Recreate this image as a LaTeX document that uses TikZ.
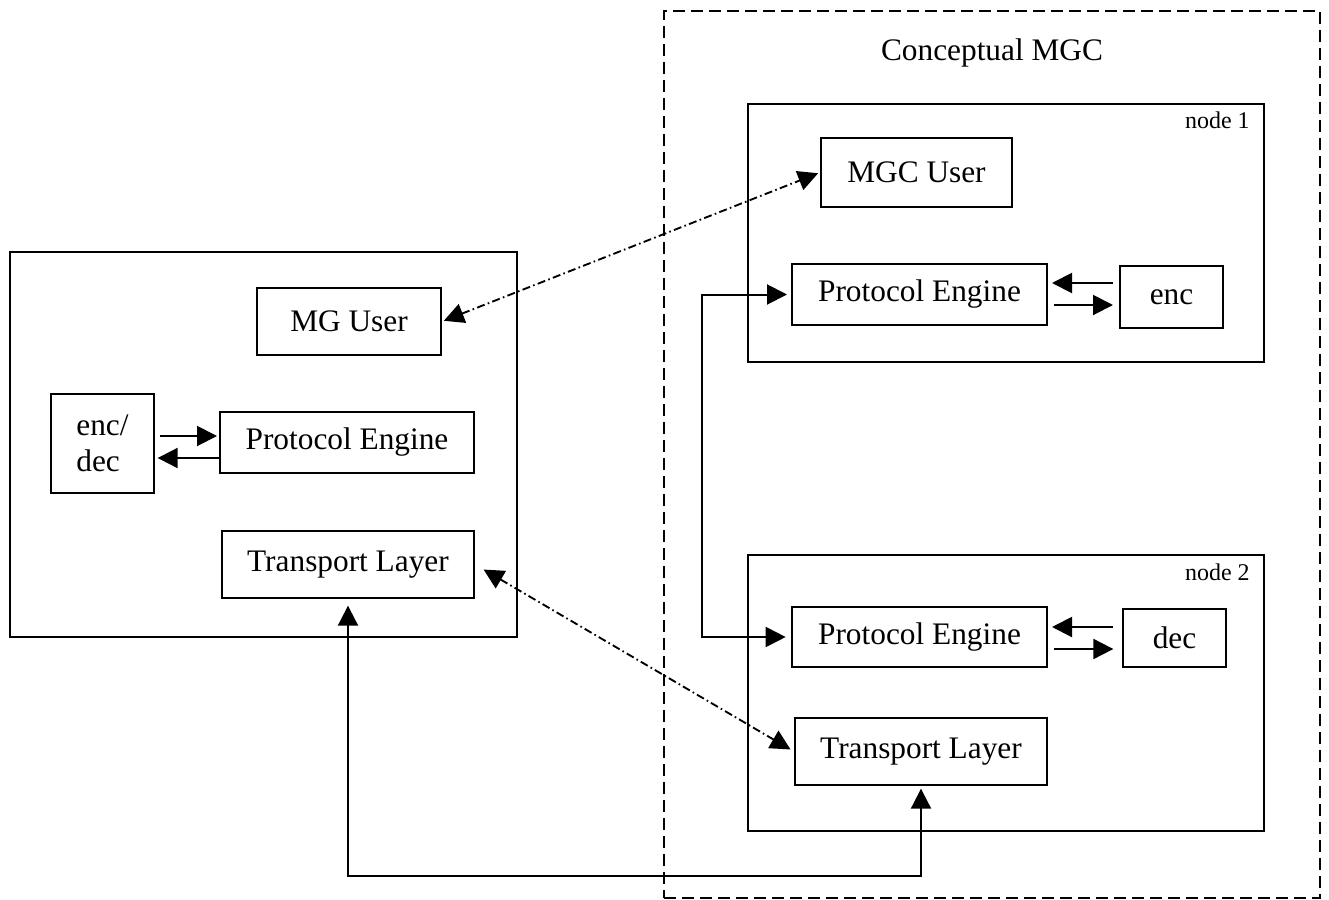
\documentclass[tikz,border=0pt]{standalone}
\usepackage{fontspec}
\setmainfont{Liberation Serif}
\usetikzlibrary{arrows.meta}

\tikzset{
  wh/.style 2 args={minimum width=#1*0.75pt, minimum height=#2*0.75pt},
  box/.style={draw, line width=1.5pt, inner sep=0pt, font=\fontsize{23.5}{27}\selectfont},
  con/.style={line width=1.5pt},
  dcon/.style={line width=1.4pt, dash pattern=on 6pt off 2.5pt on 1.2pt off 2.5pt},
}

\begin{document}
\begin{tikzpicture}[x=0.75pt,y=0.75pt,yscale=-1.,xscale=1.,>={Triangle[length=15pt,width=15pt]}]
    \useasboundingbox (0,0) rectangle (1329,900);

    %Shape: Rectangle [MG side]
    \node [box, wh={507}{385}] (mg) at (263.5,444.5) {};
    %Shape: Rectangle [MGC side, dashed]
    \node [box, wh={656}{887}, line width=1.4pt, dash pattern=on 9pt off 4.5pt] (mgc) at (992,454.5) {};
    %Shape: Rectangle [node 1]
    \node [box, wh={516}{258}] (nodeA) at (1006,233) {};
    %Shape: Rectangle [node 2]
    \node [box, wh={516}{276}] (nodeB) at (1006,693) {};

    % Text Node
    \node [font=\fontsize{23.5}{27}\selectfont] (title) at (992,53) {Conceptual MGC};
    % Text Node
    \node [anchor=east, inner sep=0pt, font=\fontsize{18}{21}\selectfont] (lblA) at (1250,120) {node 1};
    % Text Node
    \node [anchor=east, inner sep=0pt, font=\fontsize{18}{21}\selectfont] (lblB) at (1250,572) {node 2};

    %Shape: MG boxes
    \node [box, wh={184}{67}] (mguser) at (349,321.5) {MG User};
    \node [box, wh={103}{99}, align=left] (encdec) at (102.5,443.5) {enc/\\dec};
    \node [box, wh={254}{61}] (pe) at (347,442.5) {Protocol Engine};
    \node [box, wh={252}{67}] (tl) at (348,564.5) {Transport Layer};

    %Shape: MGC boxes
    \node [box, wh={191}{69}] (mgcuser) at (916.5,172.5) {MGC User};
    \node [box, wh={255}{61}] (peA) at (919.5,294.5) {Protocol Engine};
    \node [box, wh={103}{62}] (enc) at (1171.5,297) {enc};
    \node [box, wh={255}{60}] (peB) at (919.5,637) {Protocol Engine};
    \node [box, wh={103}{58}] (dec) at (1174.5,638) {dec};
    \node [box, wh={252}{67}] (tlB) at (921,751.5) {Transport Layer};

    %Straight Lines [enc/dec <-> engine]
    \draw [con, ->, shorten <=4pt, shorten >=1.5pt] (encdec.east |- 0,436) -- (pe.west |- 0,436);
    \draw [con, ->, shorten >=2pt] (pe.west |- 0,458) -- (encdec.east |- 0,458);
    \draw [con, ->, shorten <=4.5pt, shorten >=3pt] (enc.west |- 0,283) -- (peA.east |- 0,283);
    \draw [con, ->, shorten <=4.5pt, shorten >=4.5pt] (peA.east |- 0,305) -- (enc.west |- 0,305);
    \draw [con, ->, shorten <=6.5pt, shorten >=3pt] (dec.west |- 0,627) -- (peB.east |- 0,627);
    \draw [con, ->, shorten <=4.5pt, shorten >=6.5pt] (peB.east |- 0,649) -- (dec.west |- 0,649);

    %Straight Lines [engine <-> engine]
    \draw [con, <->, shorten <=3pt, shorten >=4pt] (peA.west) -- ++(-89,0) |- (peB.west);
    %Straight Lines [transport <-> transport]
    \draw [con, <->, shorten <=5pt, shorten >=2pt] (tl.south) -- ++(0,277) -| (tlB.south);

    %Dashed Lines
    \draw [dcon, <->, shorten <=1.5pt, shorten >=1.5pt] (mguser.east) -- (mgcuser.west);
    \draw [dcon, <->, shorten <=7.5pt, shorten >=3pt] (tl.east) -- (tlB.west);

\end{tikzpicture}
\end{document}
